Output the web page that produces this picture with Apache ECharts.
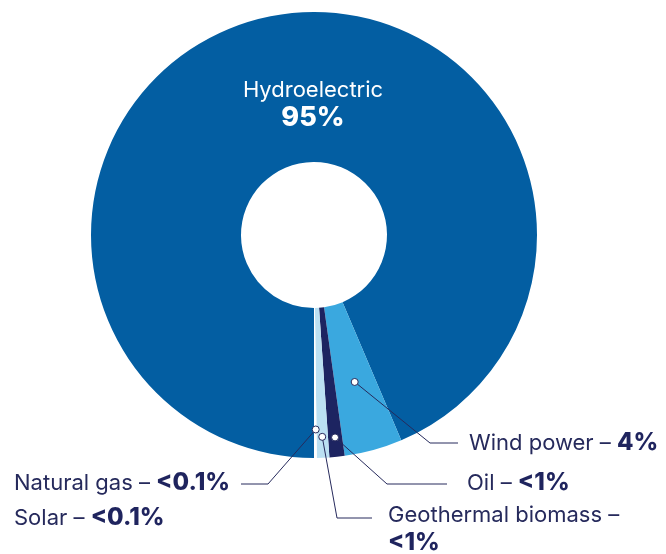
<!DOCTYPE html>
<html>
<head>
<meta charset="utf-8">
<script src="https://cdn.jsdelivr.net/npm/echarts@6/dist/echarts.min.js"></script>
<style>
  html, body { margin: 0; padding: 0; background: #fff; }
  #echart { width: 666px; height: 554px; }
</style>
</head>
<body>
<div id="echart"></div>
<script>
    var sources = ['Hydroelectric', 'Wind power', 'Oil', 'Geothermal biomass', 'Natural gas', 'Solar'];
    var shares = [93.6, 4.2, 1.1, 0.9, 0.12, 0.08];
    var shareLabels = ['95%', '4%', '<1%', '<1%', '<0.1%', '<0.1%'];
    var colors = ['#035ea2', '#3aa8df', '#1d2461', '#bbe0f2', '#ffffff', '#ffffff'];

    var navy = '#262a5c';
    var font = 'Inter';

    // label spots + leader line bends (at = how far out in the ring the dot sits)
    var spots = [
        { x: 313, y: 104, align: 'center' },
        { x: 469, y: 443, align: 'left', elbow: [430, 443], end: [458, 443], at: 0.53 },
        { x: 467, y: 483, align: 'left', elbow: [387, 484], end: [447, 484], at: 0.87 },
        { x: 388, y: 529, align: 'left', elbow: [337, 518], end: [372, 518], at: 0.86 },
        { x: 14, y: 483, align: 'left', elbow: [268, 484], end: [241, 484], at: 0.81 },
        { x: 14, y: 518, align: 'left' }
    ];

    function labelText(i) {
        if (i === 0) return '{hr|' + sources[0] + '}\n{hb|' + shareLabels[0] + '}';
        if (i === 3) return '{r|' + sources[i] + ' –}\n{b|' + shareLabels[i] + '}';
        return '{r|' + sources[i] + ' – }{b|' + shareLabels[i] + '}';
    }

    var data = sources.map(function (name, i) {
        return { name: name, value: shares[i], itemStyle: { color: colors[i] } };
    });

    var myChart = echarts.init(document.getElementById('echart'));
    var option = {
        animation: false,
        series: [{
            type: 'pie',
            center: [314, 235],
            radius: [73, 223],
            startAngle: -90,
            clockwise: true,
            avoidLabelOverlap: false,
            minAngle: 0,
            itemStyle: { borderWidth: 0 },
            emphasis: { disabled: true },
            label: {
                show: true,
                position: 'outside',
                formatter: function (p) { return labelText(p.dataIndex); },
                rich: {
                    r: { fontFamily: font, fontSize: 22, color: navy, lineHeight: 28 },
                    b: { fontFamily: font, fontSize: 24, fontWeight: 800, color: '#1f245e', lineHeight: 28 },
                    hr: { fontFamily: font, fontSize: 22, color: '#fff', lineHeight: 28, align: 'center' },
                    hb: { fontFamily: font, fontSize: 27, fontWeight: 800, color: '#fff', lineHeight: 28, align: 'center' }
                }
            },
            labelLine: { show: false },
            labelLayout: function (params) {
                var s = spots[params.dataIndex];
                return { x: s.x, y: s.y, align: s.align, verticalAlign: 'middle' };
            },
            data: data
        }]
    };
    myChart.setOption(option);

    // leader lines + dots, starting from the pie's own layout
    var pieData = myChart.getModel().getSeriesByIndex(0).getData();
    var leaders = [];
    spots.forEach(function (s, i) {
        if (!s.elbow) return;
        var l = pieData.getItemLayout(i);
        var mid = (l.startAngle + l.endAngle) / 2;
        var rr = l.r0 + (l.r - l.r0) * s.at;
        var a = [l.cx + rr * Math.cos(mid), l.cy + rr * Math.sin(mid)];
        leaders.push({
            type: 'polyline',
            shape: { points: [a, s.elbow, s.end] },
            style: { stroke: navy, lineWidth: 1, fill: null },
            z: 99
        });
        leaders.push({
            type: 'circle',
            shape: { cx: a[0], cy: a[1], r: 3.5 },
            style: { fill: '#fff', stroke: navy, lineWidth: 1 },
            z: 100
        });
    });

    myChart.setOption({ graphic: leaders });
</script>
</body>
</html>
